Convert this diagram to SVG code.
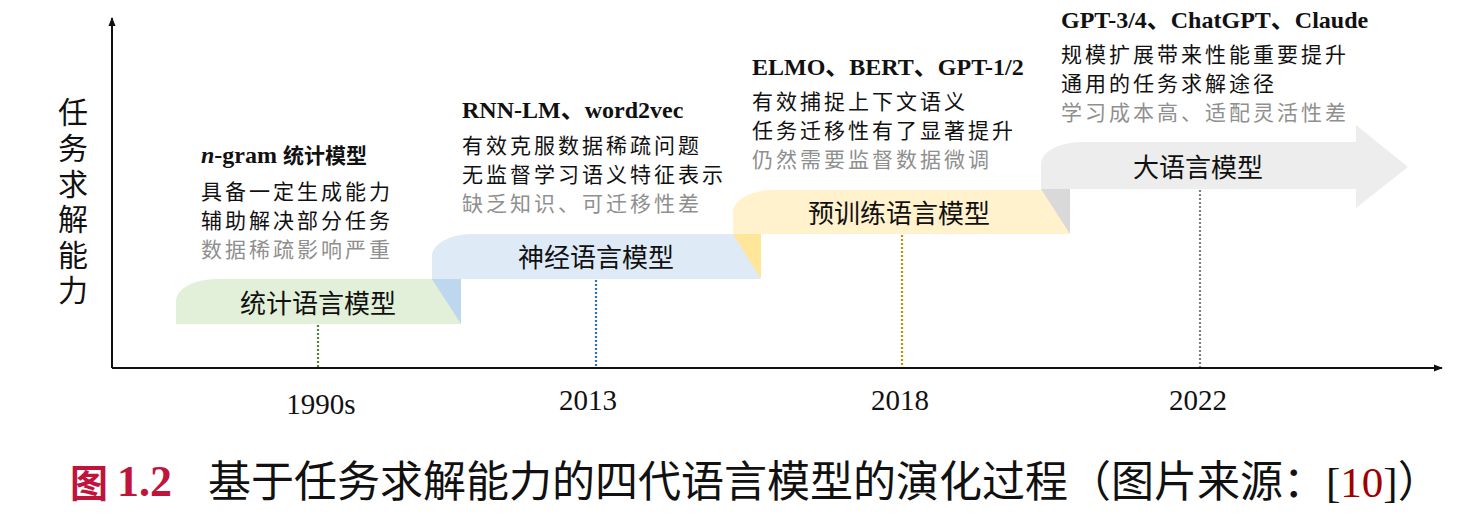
<svg xmlns="http://www.w3.org/2000/svg" width="1474" height="526" viewBox="0 0 1474 526">
<style>
.cjk{font-family:"Noto Sans CJK SC","Noto Sans",sans-serif}
.desc{font-family:"Noto Sans CJK SC",sans-serif;font-size:21px;letter-spacing:3px;fill:#111}
.gray{fill:#8f8f8f}
.title{font-family:"Liberation Serif","Noto Sans CJK SC",serif;font-size:24px;font-weight:bold;fill:#111}
.box{font-family:"Noto Sans CJK SC",sans-serif;font-size:26px;fill:#111;text-anchor:middle}
.year{font-family:"Liberation Serif",serif;font-size:29px;fill:#111;text-anchor:middle}
.dot{stroke-width:2.2;stroke-dasharray:2 2;fill:none}
.axis{stroke:#111;stroke-width:2;fill:none}
</style>
<defs>
<marker id="arr" viewBox="0 0 10 10" refX="9" refY="5" markerWidth="9" markerHeight="9" markerUnits="userSpaceOnUse" orient="auto">
<path d="M0,1 L10,5 L0,9 Z" fill="#111"/>
</marker>
</defs>
<rect width="1474" height="526" fill="#fff"/>

<g id="axes">
<path class="axis" d="M112,368 L112,18" marker-end="url(#arr)"/>
<path class="axis" d="M112,368 L1442,368" marker-end="url(#arr)"/>
<text class="cjk" font-size="30" fill="#111" x="73" y="97" writing-mode="vertical-rl" letter-spacing="5.6">任务求解能力</text>
</g>

<g id="node-statistical">
<path d="M176,324 L176,301 A40,22 0 0 1 216,279 L461,279 L461,324 Z" fill="#E2F0D9"/>
<text class="box" x="318" y="313">统计语言模型</text>
</g>

<g id="node-neural">
<path d="M432,279 L432,256 A40,22 0 0 1 472,234 L760,234 L760,279 Z" fill="#DEEBF7"/>
<path d="M432,279 L461,279 L461,324 Z" fill="#BDD7EE"/>
<text class="box" x="596" y="267">神经语言模型</text>
</g>

<g id="node-pretrained">
<path d="M733,234 L733,212 A40,22 0 0 1 773,190 L1070,190 L1070,234 Z" fill="#FFF2CC"/>
<path d="M733,234 L761,234 L761,279 Z" fill="#FFE699"/>
<text class="box" x="899" y="223">预训练语言模型</text>
</g>

<g id="node-llm">
<path d="M1041,189 L1041,164 A40,22 0 0 1 1081,142 L1356,142 L1356,125 L1408,167 L1356,208 L1356,189 Z" fill="#EDEDED"/>
<path d="M1041,189 L1070,189 L1070,234 Z" fill="#D9D9D9"/>
<text class="box" x="1198" y="177">大语言模型</text>
</g>

<g id="connectors">
<line class="dot" x1="318" y1="325" x2="318" y2="367" stroke="#548235"/>
<line class="dot" x1="596" y1="280" x2="596" y2="367" stroke="#2E75B6"/>
<line class="dot" x1="902" y1="235" x2="902" y2="367" stroke="#BF9000"/>
<line class="dot" x1="1200" y1="190" x2="1200" y2="367" stroke="#7F7F7F"/>
</g>

<g id="text-ngram">
<text class="title" x="201" y="163"><tspan font-style="italic">n</tspan>-gram <tspan font-family="Noto Sans CJK SC" font-size="21">统计模型</tspan></text>
<text class="desc" x="201" y="199">具备一定生成能力</text>
<text class="desc" x="201" y="228">辅助解决部分任务</text>
<text class="desc gray" x="201" y="257">数据稀疏影响严重</text>
</g>

<g id="text-rnn">
<text class="title" x="462" y="118">RNN-LM、word2vec</text>
<text class="desc" x="462" y="153">有效克服数据稀疏问题</text>
<text class="desc" x="462" y="182">无监督学习语义特征表示</text>
<text class="desc gray" x="462" y="211">缺乏知识、可迁移性差</text>
</g>

<g id="text-elmo">
<text class="title" x="752" y="75">ELMO、BERT、GPT-1/2</text>
<text class="desc" x="752" y="109">有效捕捉上下文语义</text>
<text class="desc" x="752" y="138">任务迁移性有了显著提升</text>
<text class="desc gray" x="752" y="167">仍然需要监督数据微调</text>
</g>

<g id="text-gpt">
<text class="title" x="1061" y="28">GPT-3/4、ChatGPT、Claude</text>
<text class="desc" x="1061" y="62">规模扩展带来性能重要提升</text>
<text class="desc" x="1061" y="91">通用的任务求解途径</text>
<text class="desc gray" x="1061" y="120">学习成本高、适配灵活性差</text>
</g>

<g id="years">
<text class="year" x="321" y="414">1990s</text>
<text class="year" x="588" y="410">2013</text>
<text class="year" x="900" y="410">2018</text>
<text class="year" x="1198" y="410">2022</text>
</g>

<g id="caption">
<text x="70" y="497" font-family="Noto Sans CJK SC,sans-serif" font-weight="bold" font-size="38" fill="#C0143C">图</text>
<text x="117" y="496" font-family="Liberation Serif,serif" font-weight="bold" font-size="44" fill="#C0143C">1.2</text>
<text x="208" y="497" font-family="Liberation Serif,Noto Sans CJK SC,serif" font-size="43" fill="#111">基于任务求解能力的四代语言模型的演化过程（图片来源：[<tspan fill="#A00000">10</tspan>]）</text>
</g>
</svg>
